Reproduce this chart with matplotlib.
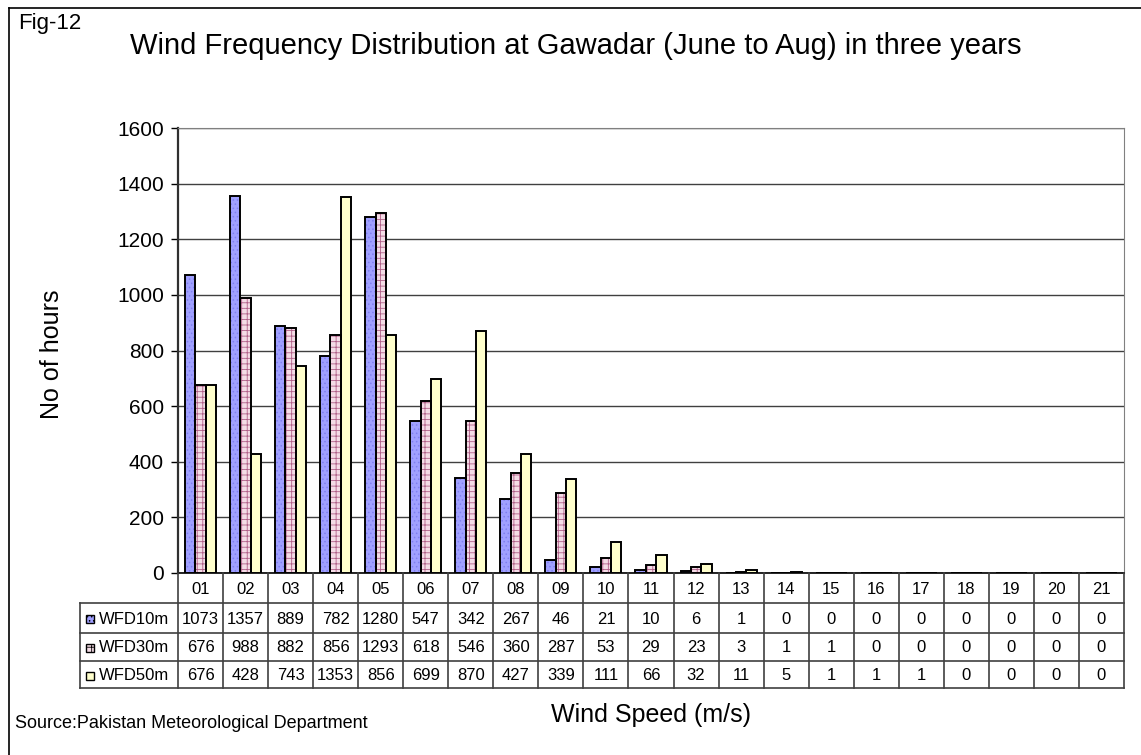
import matplotlib.pyplot as plt
import numpy as np
from matplotlib.lines import Line2D
from matplotlib.patches import Rectangle

plt.rcParams['font.family'] = ['Liberation Sans', 'DejaVu Sans']
plt.rcParams['hatch.linewidth'] = 0.6

# data
speeds = ["01", "02", "03", "04", "05", "06", "07", "08", "09", "10", "11",
          "12", "13", "14", "15", "16", "17", "18", "19", "20", "21"]
series = ["WFD10m", "WFD30m", "WFD50m"]
wfd10 = [1073, 1357, 889, 782, 1280, 547, 342, 267, 46, 21, 10, 6, 1, 0, 0, 0, 0, 0, 0, 0, 0]
wfd30 = [676, 988, 882, 856, 1293, 618, 546, 360, 287, 53, 29, 23, 3, 1, 1, 0, 0, 0, 0, 0, 0]
wfd50 = [676, 428, 743, 1353, 856, 699, 870, 427, 339, 111, 66, 32, 11, 5, 1, 1, 1, 0, 0, 0, 0]
values = [wfd10, wfd30, wfd50]

# face, hatch, hatch colour
styles = [("#A0A0FF", "....", "#8080F0"),
          ("#F4DCE6", "+++", "#B06088"),
          ("#FFFFCC", None, "#FFFFCC")]

W, H = 1141, 755
fig = plt.figure(figsize=(W / 100, H / 100), dpi=100)

# plot area in pixels
px_l, px_r, px_t, px_b = 178, 1124, 128, 573
ax = fig.add_axes([px_l / W, 1 - px_b / H, (px_r - px_l) / W, (px_b - px_t) / H])

x = np.arange(len(speeds))
bw = 0.23
for k, (vals, (fc, hatch, hc)) in enumerate(zip(values, styles)):
    pos = x + (k - 1) * bw
    ax.bar(pos, vals, bw, color=fc, hatch=hatch, edgecolor=hc, linewidth=0, zorder=3)
    ax.bar(pos, vals, bw, fill=False, edgecolor="black", linewidth=1.4, zorder=4)

ax.set_xlim(-0.5, len(speeds) - 0.5)
ax.set_ylim(0, 1600)
ax.set_yticks(range(0, 1601, 200))
ax.tick_params(axis="y", labelsize=15, length=5, direction="out", width=1, pad=5)
ax.set_xticks([])
ax.yaxis.grid(True, color="#404040", linewidth=1)
ax.set_axisbelow(True)
ax.spines["top"].set_color("#808080")
ax.spines["right"].set_color("#808080")
ax.spines["left"].set_linewidth(1.6)
ax.spines["left"].set_color("#303030")
ax.spines["bottom"].set_linewidth(1.2)

# overlay axes in pixel coordinates for the frame, titles and table
ov = fig.add_axes([0, 0, 1, 1], zorder=-1)
ov.set_xlim(0, W)
ov.set_ylim(H, 0)
ov.axis("off")
top = fig.add_axes([0, 0, 1, 1], zorder=5)
top.set_xlim(0, W)
top.set_ylim(H, 0)
top.axis("off")
top.patch.set_alpha(0)

# outer frame (left and top only visible)
ov.add_line(Line2D([9, 9], [8, H], color="black", linewidth=1.2))
ov.add_line(Line2D([9, W], [8, 8], color="black", linewidth=1.2))

top.text(18, 24, "Fig-12", fontsize=16, va="center", ha="left")
top.text(576, 46, "Wind Frequency Distribution at Gawadar (June to Aug) in three years",
         fontsize=21, ha="center", va="center")
top.text(52, 354, "No of hours", fontsize=18, rotation=90, ha="center", va="center")
top.text(651, 715, "Wind Speed (m/s)", fontsize=18, ha="center", va="center")
top.text(15, 723, "Source:Pakistan Meteorological Department", fontsize=13,
         ha="left", va="center")

# data table
cw = (px_r - px_l) / len(speeds)
rows = [573, 603, 633, 661, 688]
leg_l = 80
lc = "#404040"
for r in rows[1:]:
    top.add_line(Line2D([leg_l, px_r], [r, r], color=lc, linewidth=1.2))
for i in range(len(speeds) + 1):
    xx = px_l + i * cw
    top.add_line(Line2D([xx, xx], [rows[0], rows[-1]], color=lc, linewidth=1.2))
top.add_line(Line2D([leg_l, leg_l], [rows[1], rows[-1]], color=lc, linewidth=1.2))

for i, s in enumerate(speeds):
    top.text(px_l + (i + 0.5) * cw, (rows[0] + rows[1]) / 2 + 1, s, fontsize=12,
             ha="center", va="center")
for k, name in enumerate(series):
    yc = (rows[k + 1] + rows[k + 2]) / 2 + 1
    fc, hatch, hc = styles[k]
    top.add_patch(Rectangle((86, yc - 4), 8, 8, facecolor=fc, hatch=hatch,
                            edgecolor="black", linewidth=1))
    top.text(99, yc, name, fontsize=12, ha="left", va="center")
    for i, v in enumerate(values[k]):
        top.text(px_l + (i + 0.5) * cw, yc, str(v), fontsize=12, ha="center", va="center")

fig.savefig("out.png", dpi=100)
